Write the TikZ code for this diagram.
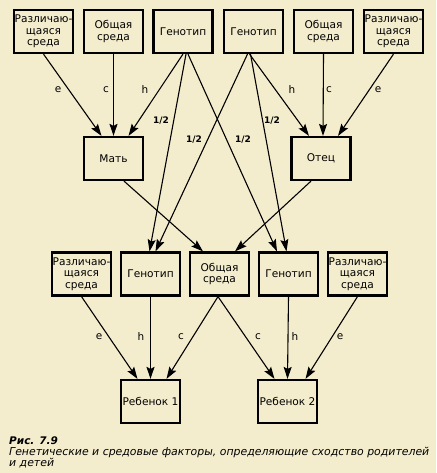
\documentclass[tikz,border=0pt]{standalone}
\usepackage{fontspec}
\setmainfont{DejaVu Sans}
\usetikzlibrary{arrows.meta}
\definecolor{paper}{HTML}{F4EDCD}

\begin{document}
\begin{tikzpicture}[x=1pt,y=-1pt,
    factor/.style={draw,line width=2.2pt,minimum width=59pt,minimum height=43pt,inner sep=1pt,align=center,font=\fontsize{10.6}{11.5}\selectfont},
    link/.style={line width=1.1pt,-{Stealth[length=12pt,width=8pt,inset=2pt]}},
    coef/.style={font=\fontsize{10.5}{11}\selectfont},
    half/.style={font=\bfseries\fontsize{9}{10}\selectfont}]
    % Background and frame
    \fill[paper] (0,0) rectangle (436,473);
    \useasboundingbox (0,0) rectangle (436,473);

    % Parents' factors
    \node[factor] (diffM) at (43.5,31.5) {Различаю-\\щаяся\\среда};
    \node[factor] (comM) at (113.5,31.5) {Общая\\среда};
    \node[factor] (genM) at (183,31.5) {Генотип};
    \node[factor] (genF) at (253.5,31.5) {Генотип};
    \node[factor] (comF) at (323.5,31.5) {Общая\\среда};
    \node[factor] (diffF) at (393.5,31.5) {Различаю-\\щаяся\\среда};

    % Parents
    \node[factor] (mother) at (113.5,158.5) {Мать};
    \node[factor] (father) at (321,158.5) {Отец};

    % Children's factors
    \node[factor] (diff1) at (81.5,274) {Различаю-\\щаяся\\среда};
    \node[factor] (gen1) at (150.5,274) {Генотип};
    \node[factor] (common) at (219.5,274) {Общая\\среда};
    \node[factor] (gen2) at (288.5,274) {Генотип};
    \node[factor] (diff2) at (357.5,274) {Различаю-\\щаяся\\среда};

    % Children
    \node[factor] (child1) at (150.5,401.5) {Ребенок 1};
    \node[factor] (child2) at (287.5,401.5) {Ребенок 2};

    % Paths to the parents
    \draw[link] (diffM.south) -- ([xshift=-12pt]mother.north);
    \draw[link] (comM.south) -- (mother.north);
    \draw[link] (genM.south) -- ([xshift=15pt]mother.north);
    \draw[link] ([xshift=-4pt]genF.south) -- ([xshift=-12pt]father.north);
    \draw[link] (comF.south) -- ([xshift=2pt]father.north);
    \draw[link] (diffF.south) -- ([xshift=17pt]father.north);

    % Genes passed on
    \draw[link] ([xshift=3pt]genM.south) -- ([xshift=-1pt]gen1.north);
    \draw[link] ([xshift=5pt]genM.south) -- ([xshift=-11.5pt]gen2.north);
    \draw[link] ([xshift=-6pt]genF.south) -- ([xshift=5pt]gen1.north);
    \draw[link] ([xshift=-3pt]genF.south) -- ([xshift=-2pt]gen2.north);

    % Shared environment
    \draw[link] ([xshift=10.5pt]mother.south) -- ([xshift=-16.5pt]common.north);
    \draw[link] ([xshift=-10pt]father.south) -- ([xshift=15.5pt]common.north);

    % Paths to the children
    \draw[link] (diff1.south) -- ([xshift=-13pt]child1.north);
    \draw[link] (gen1.south) -- (child1.north);
    \draw[link] ([xshift=-1.5pt]common.south) -- ([xshift=16pt]child1.north);
    \draw[link] ([xshift=-1.5pt]common.south) -- ([xshift=-13pt]child2.north);
    \draw[link] (gen2.south) -- (child2.north);
    \draw[link] (diff2.south) -- ([xshift=18pt]child2.north);

    % Coefficients
    \foreach \x/\y/\c in {58/90/e,106/90/c,145/90/h,292/90/h,329/90/c,378/90/e,
                          99/337/e,141/337/h,181/337/c,258/337/c,295/337/h,340/337/e}
        \node[coef] at (\x,\y) {\c};
    \foreach \x/\y in {161/121,194/140,243/140,272/121}
        \node[half] at (\x,\y) {1/2};

    % Caption
    \node[anchor=west,font=\bfseries\itshape\fontsize{10.5}{11}\selectfont,inner sep=0pt] (fig) at (9,441) {Рис. 7.9};
    \node[anchor=north west,align=left,font=\itshape\fontsize{10.9}{11}\selectfont,inner sep=0pt] (capt) at ([yshift=-2pt]fig.south west) {Генетические и средовые факторы, определяющие сходство родителей\\и детей};
\end{tikzpicture}
\end{document}
